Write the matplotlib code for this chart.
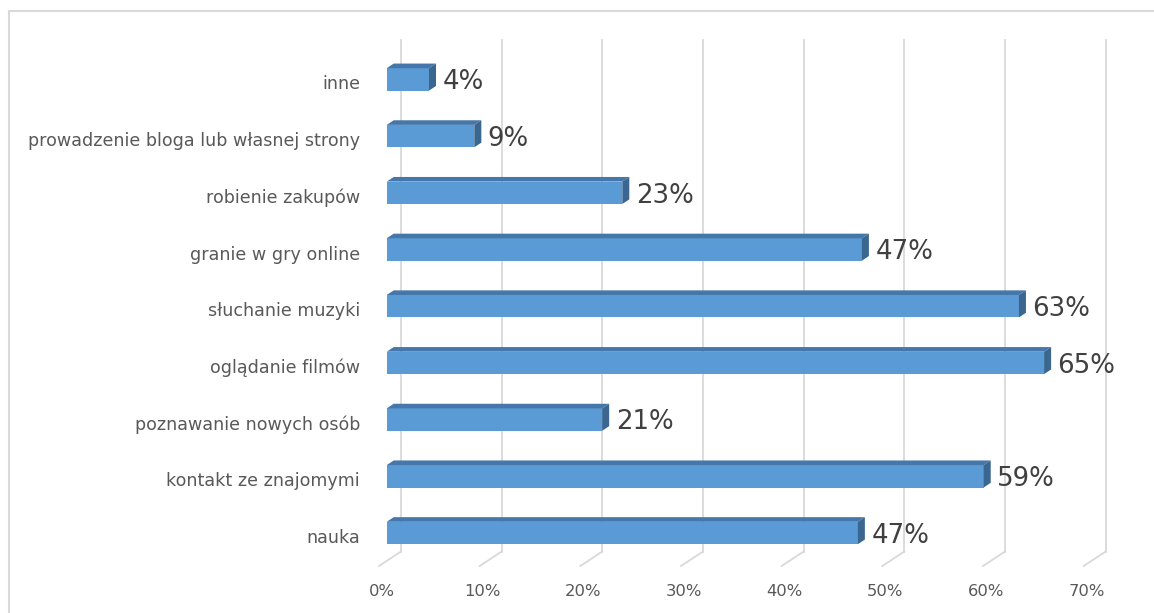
import matplotlib.pyplot as plt
import numpy as np
from matplotlib.patches import Polygon

categories = ["nauka", "kontakt ze znajomymi", "poznawanie nowych osób",
              "oglądanie filmów", "słuchanie muzyki", "granie w gry online",
              "robienie zakupów", "prowadzenie bloga lub własnej strony", "inne"]
values = [46.8, 59.3, 21.4, 65.3, 62.8, 47.2, 23.4, 8.7, 4.2]
xticks = [0, 10, 20, 30, 40, 50, 60, 70]

front_col = "#5B9BD5"
top_col = "#4677AB"
side_col = "#3A6690"
grid_col = "#D9D9D9"

W, H = 1154, 613
fig = plt.figure(figsize=(W / 100, H / 100), dpi=100)
ax = fig.add_axes([0, 0, 1, 1])
# pixel mapping: x0 = 386.7 px, 10.067 px per %, category spacing 56.7 px
px_x, x0 = 10.067, 386.7
px_y, y0 = 56.7, 533.0
ax.set_xlim(-x0 / px_x, (W - x0) / px_x)
ax.set_ylim((y0 - H) / px_y, y0 / px_y)
ax.axis("off")

# depth vector (front -> back wall) in data units
Dx, Dy = 22 / px_x, 14.5 / px_y
f = 0.35  # bar front sits at this fraction of depth
bd = 0.32  # bar depth fraction
h = 22.4 / px_y

y_wall_bot = (y0 - 551.5) / px_y
y_wall_top = (y0 - 40) / px_y

# gridlines (back wall + floor)
for t in xticks:
    xw = t + (1 - f) * Dx
    ax.plot([xw, xw], [y_wall_bot, y_wall_top], color=grid_col, lw=1.3, zorder=1)
    ax.plot([xw, t - f * Dx], [y_wall_bot, y_wall_bot - Dy], color=grid_col, lw=1.3, zorder=1)
    ax.text(t - f * Dx + 0.3, (y0 - 591) / px_y, f"{t}%", ha="center", va="center",
            fontsize=11.8, color="#595959")

ypos = np.arange(len(categories))
ax.barh(ypos, values, height=h, color=front_col, zorder=3)
for i, v in enumerate(values):
    top = i + h / 2
    bot = i - h / 2
    ax.add_patch(Polygon([(0, top), (v, top), (v + bd * Dx, top + bd * Dy), (bd * Dx, top + bd * Dy)],
                         closed=True, facecolor=top_col, edgecolor="none", zorder=3))
    ax.add_patch(Polygon([(v, bot), (v, top), (v + bd * Dx, top + bd * Dy), (v + bd * Dx, bot + bd * Dy)],
                         closed=True, facecolor=side_col, edgecolor="none", zorder=3))
    ax.text(v + 13.5 / px_x, i - 0.05, f"{round(v)}%", ha="left", va="center",
            fontsize=18.7, color="#404040", zorder=4)
    ax.text((360 - x0) / px_x, i - f * Dy, categories[i], ha="right", va="center",
            fontsize=12.6, color="#595959")

# chart area border (top and left)
fig.add_artist(plt.Line2D([9 / W, 1], [1 - 11 / H, 1 - 11 / H], color=grid_col, lw=1.5))
fig.add_artist(plt.Line2D([9 / W, 9 / W], [0, 1 - 11 / H], color=grid_col, lw=1.5))

fig.savefig("out.png", dpi=100)
